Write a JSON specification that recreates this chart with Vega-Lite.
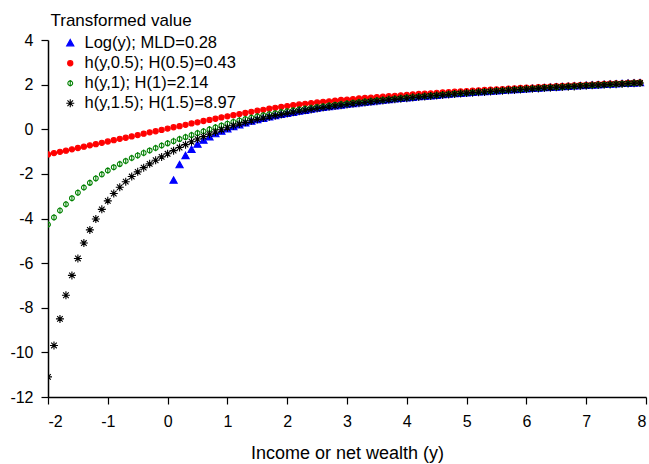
{
  "$schema": "https://vega.github.io/schema/vega-lite/v6.json",
  "width": 598,
  "height": 357,
  "autosize": "none",
  "padding": {"left": 48, "top": 40, "right": 3, "bottom": 67},
  "background": "white",
  "config": {
    "view": {"stroke": null},
    "font": "Liberation Sans",
    "axis": {"labelFont": "Liberation Sans", "titleFont": "Liberation Sans", "labelColor": "#000", "titleColor": "#000"}
  },
  "data": {
    "values": [
      {"s":"l","y":0.1,"v":-2.3},{"s":"l","y":0.2,"v":-1.61},{"s":"l","y":0.3,"v":-1.2},{"s":"l","y":0.4,"v":-0.92},{"s":"l","y":0.5,"v":-0.69},
      {"s":"l","y":0.6,"v":-0.51},{"s":"l","y":0.7,"v":-0.36},{"s":"l","y":0.8,"v":-0.22},{"s":"l","y":0.9,"v":-0.11},{"s":"l","y":1.0,"v":0},
      {"s":"l","y":1.1,"v":0.1},{"s":"l","y":1.2,"v":0.18},{"s":"l","y":1.3,"v":0.26},{"s":"l","y":1.4,"v":0.34},{"s":"l","y":1.5,"v":0.41},
      {"s":"l","y":1.6,"v":0.47},{"s":"l","y":1.7,"v":0.53},{"s":"l","y":1.8,"v":0.59},{"s":"l","y":1.9,"v":0.64},{"s":"l","y":2.0,"v":0.69},
      {"s":"l","y":2.1,"v":0.74},{"s":"l","y":2.2,"v":0.79},{"s":"l","y":2.3,"v":0.83},{"s":"l","y":2.4,"v":0.88},{"s":"l","y":2.5,"v":0.92},
      {"s":"l","y":2.6,"v":0.96},{"s":"l","y":2.7,"v":0.99},{"s":"l","y":2.8,"v":1.03},{"s":"l","y":2.9,"v":1.06},{"s":"l","y":3.0,"v":1.1},
      {"s":"l","y":3.1,"v":1.13},{"s":"l","y":3.2,"v":1.16},{"s":"l","y":3.3,"v":1.19},{"s":"l","y":3.4,"v":1.22},{"s":"l","y":3.5,"v":1.25},
      {"s":"l","y":3.6,"v":1.28},{"s":"l","y":3.7,"v":1.31},{"s":"l","y":3.8,"v":1.34},{"s":"l","y":3.9,"v":1.36},{"s":"l","y":4.0,"v":1.39},
      {"s":"l","y":4.1,"v":1.41},{"s":"l","y":4.2,"v":1.44},{"s":"l","y":4.3,"v":1.46},{"s":"l","y":4.4,"v":1.48},{"s":"l","y":4.5,"v":1.5},
      {"s":"l","y":4.6,"v":1.53},{"s":"l","y":4.7,"v":1.55},{"s":"l","y":4.8,"v":1.57},{"s":"l","y":4.9,"v":1.59},{"s":"l","y":5.0,"v":1.61},
      {"s":"l","y":5.1,"v":1.63},{"s":"l","y":5.2,"v":1.65},{"s":"l","y":5.3,"v":1.67},{"s":"l","y":5.4,"v":1.69},{"s":"l","y":5.5,"v":1.7},
      {"s":"l","y":5.6,"v":1.72},{"s":"l","y":5.7,"v":1.74},{"s":"l","y":5.8,"v":1.76},{"s":"l","y":5.9,"v":1.77},{"s":"l","y":6.0,"v":1.79},
      {"s":"l","y":6.1,"v":1.81},{"s":"l","y":6.2,"v":1.82},{"s":"l","y":6.3,"v":1.84},{"s":"l","y":6.4,"v":1.86},{"s":"l","y":6.5,"v":1.87},
      {"s":"l","y":6.6,"v":1.89},{"s":"l","y":6.7,"v":1.9},{"s":"l","y":6.8,"v":1.92},{"s":"l","y":6.9,"v":1.93},{"s":"l","y":7.0,"v":1.95},
      {"s":"l","y":7.1,"v":1.96},{"s":"l","y":7.2,"v":1.97},{"s":"l","y":7.3,"v":1.99},{"s":"l","y":7.4,"v":2.0},{"s":"l","y":7.5,"v":2.01},
      {"s":"l","y":7.6,"v":2.03},{"s":"l","y":7.7,"v":2.04},{"s":"l","y":7.8,"v":2.05},{"s":"l","y":7.9,"v":2.07},

      {"s":"r","y":-2.0,"v":-1.13},{"s":"r","y":-1.9,"v":-1.07},{"s":"r","y":-1.8,"v":-1.01},{"s":"r","y":-1.7,"v":-0.96},{"s":"r","y":-1.6,"v":-0.9},
      {"s":"r","y":-1.5,"v":-0.84},{"s":"r","y":-1.4,"v":-0.78},{"s":"r","y":-1.3,"v":-0.72},{"s":"r","y":-1.2,"v":-0.67},{"s":"r","y":-1.1,"v":-0.61},
      {"s":"r","y":-1.0,"v":-0.55},{"s":"r","y":-0.9,"v":-0.49},{"s":"r","y":-0.8,"v":-0.43},{"s":"r","y":-0.7,"v":-0.38},{"s":"r","y":-0.6,"v":-0.32},
      {"s":"r","y":-0.5,"v":-0.26},{"s":"r","y":-0.4,"v":-0.2},{"s":"r","y":-0.3,"v":-0.14},{"s":"r","y":-0.2,"v":-0.09},{"s":"r","y":-0.1,"v":-0.03},
      {"s":"r","y":0.0,"v":0.03},{"s":"r","y":0.1,"v":0.09},{"s":"r","y":0.2,"v":0.14},{"s":"r","y":0.3,"v":0.2},{"s":"r","y":0.4,"v":0.26},
      {"s":"r","y":0.5,"v":0.31},{"s":"r","y":0.6,"v":0.37},{"s":"r","y":0.7,"v":0.42},{"s":"r","y":0.8,"v":0.47},{"s":"r","y":0.9,"v":0.53},
      {"s":"r","y":1.0,"v":0.58},{"s":"r","y":1.1,"v":0.63},{"s":"r","y":1.2,"v":0.68},{"s":"r","y":1.3,"v":0.73},{"s":"r","y":1.4,"v":0.78},
      {"s":"r","y":1.5,"v":0.83},{"s":"r","y":1.6,"v":0.87},{"s":"r","y":1.7,"v":0.92},{"s":"r","y":1.8,"v":0.96},{"s":"r","y":1.9,"v":1.0},
      {"s":"r","y":2.0,"v":1.04},{"s":"r","y":2.1,"v":1.08},{"s":"r","y":2.2,"v":1.11},{"s":"r","y":2.3,"v":1.14},{"s":"r","y":2.4,"v":1.17},
      {"s":"r","y":2.5,"v":1.2},{"s":"r","y":2.6,"v":1.23},{"s":"r","y":2.7,"v":1.25},{"s":"r","y":2.8,"v":1.28},{"s":"r","y":2.9,"v":1.31},
      {"s":"r","y":3.0,"v":1.33},{"s":"r","y":3.1,"v":1.35},{"s":"r","y":3.2,"v":1.38},{"s":"r","y":3.3,"v":1.4},{"s":"r","y":3.4,"v":1.42},
      {"s":"r","y":3.5,"v":1.44},{"s":"r","y":3.6,"v":1.46},{"s":"r","y":3.7,"v":1.48},{"s":"r","y":3.8,"v":1.5},{"s":"r","y":3.9,"v":1.52},
      {"s":"r","y":4.0,"v":1.54},{"s":"r","y":4.1,"v":1.56},{"s":"r","y":4.2,"v":1.58},{"s":"r","y":4.3,"v":1.6},{"s":"r","y":4.4,"v":1.61},
      {"s":"r","y":4.5,"v":1.63},{"s":"r","y":4.6,"v":1.65},{"s":"r","y":4.7,"v":1.66},{"s":"r","y":4.8,"v":1.68},{"s":"r","y":4.9,"v":1.7},
      {"s":"r","y":5.0,"v":1.71},{"s":"r","y":5.1,"v":1.73},{"s":"r","y":5.2,"v":1.74},{"s":"r","y":5.3,"v":1.76},{"s":"r","y":5.4,"v":1.77},
      {"s":"r","y":5.5,"v":1.79},{"s":"r","y":5.6,"v":1.8},{"s":"r","y":5.7,"v":1.82},{"s":"r","y":5.8,"v":1.83},{"s":"r","y":5.9,"v":1.85},
      {"s":"r","y":6.0,"v":1.86},{"s":"r","y":6.1,"v":1.87},{"s":"r","y":6.2,"v":1.89},{"s":"r","y":6.3,"v":1.9},{"s":"r","y":6.4,"v":1.91},
      {"s":"r","y":6.5,"v":1.93},{"s":"r","y":6.6,"v":1.94},{"s":"r","y":6.7,"v":1.95},{"s":"r","y":6.8,"v":1.97},{"s":"r","y":6.9,"v":1.98},
      {"s":"r","y":7.0,"v":1.99},{"s":"r","y":7.1,"v":2.0},{"s":"r","y":7.2,"v":2.02},{"s":"r","y":7.3,"v":2.03},{"s":"r","y":7.4,"v":2.04},
      {"s":"r","y":7.5,"v":2.05},{"s":"r","y":7.6,"v":2.06},{"s":"r","y":7.7,"v":2.08},{"s":"r","y":7.8,"v":2.09},{"s":"r","y":7.9,"v":2.1},

      {"s":"g","y":-2.0,"v":-4.27},{"s":"g","y":-1.9,"v":-3.95},{"s":"g","y":-1.8,"v":-3.64},{"s":"g","y":-1.7,"v":-3.36},{"s":"g","y":-1.6,"v":-3.09},
      {"s":"g","y":-1.5,"v":-2.84},{"s":"g","y":-1.4,"v":-2.61},{"s":"g","y":-1.3,"v":-2.4},{"s":"g","y":-1.2,"v":-2.2},{"s":"g","y":-1.1,"v":-2.02},
      {"s":"g","y":-1.0,"v":-1.85},{"s":"g","y":-0.9,"v":-1.7},{"s":"g","y":-0.8,"v":-1.56},{"s":"g","y":-0.7,"v":-1.42},{"s":"g","y":-0.6,"v":-1.29},
      {"s":"g","y":-0.5,"v":-1.17},{"s":"g","y":-0.4,"v":-1.06},{"s":"g","y":-0.3,"v":-0.95},{"s":"g","y":-0.2,"v":-0.84},{"s":"g","y":-0.1,"v":-0.73},
      {"s":"g","y":0.0,"v":-0.63},{"s":"g","y":0.1,"v":-0.53},{"s":"g","y":0.2,"v":-0.44},{"s":"g","y":0.3,"v":-0.35},{"s":"g","y":0.4,"v":-0.26},
      {"s":"g","y":0.5,"v":-0.17},{"s":"g","y":0.6,"v":-0.09},{"s":"g","y":0.7,"v":0.0},{"s":"g","y":0.8,"v":0.09},{"s":"g","y":0.9,"v":0.17},
      {"s":"g","y":1.0,"v":0.25},{"s":"g","y":1.1,"v":0.33},{"s":"g","y":1.2,"v":0.4},{"s":"g","y":1.3,"v":0.46},{"s":"g","y":1.4,"v":0.52},
      {"s":"g","y":1.5,"v":0.58},{"s":"g","y":1.6,"v":0.63},{"s":"g","y":1.7,"v":0.68},{"s":"g","y":1.8,"v":0.72},{"s":"g","y":1.9,"v":0.77},
      {"s":"g","y":2.0,"v":0.81},{"s":"g","y":2.1,"v":0.85},{"s":"g","y":2.2,"v":0.89},{"s":"g","y":2.3,"v":0.93},{"s":"g","y":2.4,"v":0.96},
      {"s":"g","y":2.5,"v":1.0},{"s":"g","y":2.6,"v":1.03},{"s":"g","y":2.7,"v":1.07},{"s":"g","y":2.8,"v":1.1},{"s":"g","y":2.9,"v":1.13},
      {"s":"g","y":3.0,"v":1.16},{"s":"g","y":3.1,"v":1.19},{"s":"g","y":3.2,"v":1.22},{"s":"g","y":3.3,"v":1.25},{"s":"g","y":3.4,"v":1.27},
      {"s":"g","y":3.5,"v":1.3},{"s":"g","y":3.6,"v":1.32},{"s":"g","y":3.7,"v":1.35},{"s":"g","y":3.8,"v":1.37},{"s":"g","y":3.9,"v":1.4},
      {"s":"g","y":4.0,"v":1.42},{"s":"g","y":4.1,"v":1.45},{"s":"g","y":4.2,"v":1.47},{"s":"g","y":4.3,"v":1.49},{"s":"g","y":4.4,"v":1.51},
      {"s":"g","y":4.5,"v":1.53},{"s":"g","y":4.6,"v":1.56},{"s":"g","y":4.7,"v":1.58},{"s":"g","y":4.8,"v":1.6},{"s":"g","y":4.9,"v":1.62},
      {"s":"g","y":5.0,"v":1.63},{"s":"g","y":5.1,"v":1.65},{"s":"g","y":5.2,"v":1.67},{"s":"g","y":5.3,"v":1.69},{"s":"g","y":5.4,"v":1.71},
      {"s":"g","y":5.5,"v":1.73},{"s":"g","y":5.6,"v":1.74},{"s":"g","y":5.7,"v":1.76},{"s":"g","y":5.8,"v":1.78},{"s":"g","y":5.9,"v":1.79},
      {"s":"g","y":6.0,"v":1.81},{"s":"g","y":6.1,"v":1.83},{"s":"g","y":6.2,"v":1.84},{"s":"g","y":6.3,"v":1.86},{"s":"g","y":6.4,"v":1.87},
      {"s":"g","y":6.5,"v":1.89},{"s":"g","y":6.6,"v":1.9},{"s":"g","y":6.7,"v":1.92},{"s":"g","y":6.8,"v":1.93},{"s":"g","y":6.9,"v":1.95},
      {"s":"g","y":7.0,"v":1.96},{"s":"g","y":7.1,"v":1.97},{"s":"g","y":7.2,"v":1.99},{"s":"g","y":7.3,"v":2.0},{"s":"g","y":7.4,"v":2.01},
      {"s":"g","y":7.5,"v":2.03},{"s":"g","y":7.6,"v":2.04},{"s":"g","y":7.7,"v":2.05},{"s":"g","y":7.8,"v":2.07},{"s":"g","y":7.9,"v":2.08},

      {"s":"b","y":-2.0,"v":-11.1},{"s":"b","y":-1.9,"v":-9.69},{"s":"b","y":-1.8,"v":-8.5},{"s":"b","y":-1.7,"v":-7.44},{"s":"b","y":-1.6,"v":-6.55},
      {"s":"b","y":-1.5,"v":-5.79},{"s":"b","y":-1.4,"v":-5.1},{"s":"b","y":-1.3,"v":-4.51},{"s":"b","y":-1.2,"v":-4.02},{"s":"b","y":-1.1,"v":-3.59},
      {"s":"b","y":-1.0,"v":-3.21},{"s":"b","y":-0.9,"v":-2.88},{"s":"b","y":-0.8,"v":-2.6},{"s":"b","y":-0.7,"v":-2.35},{"s":"b","y":-0.6,"v":-2.12},
      {"s":"b","y":-0.5,"v":-1.91},{"s":"b","y":-0.4,"v":-1.72},{"s":"b","y":-0.3,"v":-1.55},{"s":"b","y":-0.2,"v":-1.39},{"s":"b","y":-0.1,"v":-1.24},
      {"s":"b","y":0.0,"v":-1.1},{"s":"b","y":0.1,"v":-0.96},{"s":"b","y":0.2,"v":-0.82},{"s":"b","y":0.3,"v":-0.69},{"s":"b","y":0.4,"v":-0.56},
      {"s":"b","y":0.5,"v":-0.44},{"s":"b","y":0.6,"v":-0.33},{"s":"b","y":0.7,"v":-0.22},{"s":"b","y":0.8,"v":-0.12},{"s":"b","y":0.9,"v":-0.02},
      {"s":"b","y":1.0,"v":0.07},{"s":"b","y":1.1,"v":0.16},{"s":"b","y":1.2,"v":0.23},{"s":"b","y":1.3,"v":0.31},{"s":"b","y":1.4,"v":0.38},
      {"s":"b","y":1.5,"v":0.44},{"s":"b","y":1.6,"v":0.5},{"s":"b","y":1.7,"v":0.56},{"s":"b","y":1.8,"v":0.61},{"s":"b","y":1.9,"v":0.66},
      {"s":"b","y":2.0,"v":0.71},{"s":"b","y":2.1,"v":0.76},{"s":"b","y":2.2,"v":0.81},{"s":"b","y":2.3,"v":0.85},{"s":"b","y":2.4,"v":0.89},
      {"s":"b","y":2.5,"v":0.93},{"s":"b","y":2.6,"v":0.97},{"s":"b","y":2.7,"v":1.01},{"s":"b","y":2.8,"v":1.04},{"s":"b","y":2.9,"v":1.08},
      {"s":"b","y":3.0,"v":1.11},{"s":"b","y":3.1,"v":1.14},{"s":"b","y":3.2,"v":1.17},{"s":"b","y":3.3,"v":1.2},{"s":"b","y":3.4,"v":1.23},
      {"s":"b","y":3.5,"v":1.26},{"s":"b","y":3.6,"v":1.29},{"s":"b","y":3.7,"v":1.32},{"s":"b","y":3.8,"v":1.34},{"s":"b","y":3.9,"v":1.37},
      {"s":"b","y":4.0,"v":1.39},{"s":"b","y":4.1,"v":1.42},{"s":"b","y":4.2,"v":1.44},{"s":"b","y":4.3,"v":1.47},{"s":"b","y":4.4,"v":1.49},
      {"s":"b","y":4.5,"v":1.51},{"s":"b","y":4.6,"v":1.53},{"s":"b","y":4.7,"v":1.56},{"s":"b","y":4.8,"v":1.58},{"s":"b","y":4.9,"v":1.6},
      {"s":"b","y":5.0,"v":1.62},{"s":"b","y":5.1,"v":1.64},{"s":"b","y":5.2,"v":1.66},{"s":"b","y":5.3,"v":1.67},{"s":"b","y":5.4,"v":1.69},
      {"s":"b","y":5.5,"v":1.71},{"s":"b","y":5.6,"v":1.73},{"s":"b","y":5.7,"v":1.75},{"s":"b","y":5.8,"v":1.76},{"s":"b","y":5.9,"v":1.78},
      {"s":"b","y":6.0,"v":1.8},{"s":"b","y":6.1,"v":1.81},{"s":"b","y":6.2,"v":1.83},{"s":"b","y":6.3,"v":1.85},{"s":"b","y":6.4,"v":1.86},
      {"s":"b","y":6.5,"v":1.88},{"s":"b","y":6.6,"v":1.89},{"s":"b","y":6.7,"v":1.91},{"s":"b","y":6.8,"v":1.92},{"s":"b","y":6.9,"v":1.94},
      {"s":"b","y":7.0,"v":1.95},{"s":"b","y":7.1,"v":1.97},{"s":"b","y":7.2,"v":1.98},{"s":"b","y":7.3,"v":1.99},{"s":"b","y":7.4,"v":2.01},
      {"s":"b","y":7.5,"v":2.02},{"s":"b","y":7.6,"v":2.03},{"s":"b","y":7.7,"v":2.05},{"s":"b","y":7.8,"v":2.06},{"s":"b","y":7.9,"v":2.07}
    ]
  },
  "mark": {"type": "point", "clip": true, "opacity": 1, "size": 4, "strokeWidth": 1.1},
  "encoding": {
    "x": {
      "field": "y",
      "type": "quantitative",
      "scale": {"domain": [-2, 8], "nice": false, "zero": false},
      "axis": {
        "values": [-2, -1, 0, 1, 2, 3, 4, 5, 6, 7, 8],
        "labelExpr": "'' + datum.value",
        "grid": false,
        "domainColor": "#000",
        "domainWidth": 1.5,
        "tickColor": "#000",
        "tickWidth": 1.2,
        "tickSize": 7,
        "labelFontSize": 16,
        "labelPadding": 9,
        "title": "Income or net wealth (y)",
        "titleFontSize": 18,
        "titleFontWeight": "normal",
        "titleBaseline": "alphabetic",
        "titleY": 61
      }
    },
    "y": {
      "field": "v",
      "type": "quantitative",
      "scale": {"domain": [-12, 4], "nice": false, "zero": false},
      "axis": {
        "values": [-12, -10, -8, -6, -4, -2, 0, 2, 4],
        "labelExpr": "'' + datum.value",
        "grid": false,
        "domainColor": "#000",
        "domainWidth": 1.5,
        "tickColor": "#000",
        "tickWidth": 1.2,
        "tickSize": 7,
        "labelFontSize": 16,
        "labelPadding": 8,
        "title": "Transformed value",
        "titleAngle": 0,
        "titleAlign": "left",
        "titleBaseline": "alphabetic",
        "titleFontSize": 17,
        "titleFontWeight": "normal",
        "titleX": 2,
        "titleY": -15
      }
    },
    "shape": {
      "field": "s",
      "type": "nominal",
      "scale": {
        "domain": ["l", "r", "g", "b"],
        "range": [
          "M0,-3.8L3.6,2.6L-3.6,2.6Z",
          "M-2.6,0C-2.6,-1.44,-1.44,-2.6,0,-2.6C1.44,-2.6,2.6,-1.44,2.6,0C2.6,1.44,1.44,2.6,0,2.6C-1.44,2.6,-2.6,1.44,-2.6,0Z",
          "M-2.4,0C-2.4,-1.32,-1.32,-2.4,0,-2.4C1.32,-2.4,2.4,-1.32,2.4,0C2.4,1.32,1.32,2.4,0,2.4C-1.32,2.4,-2.4,1.32,-2.4,0ZM0,-3.3L0,3.3",
          "M0,-4L0,4M-4,0L4,0M-2.8,-2.8L2.8,2.8M-2.8,2.8L2.8,-2.8"
        ]
      },
      "legend": {
        "title": null,
        "orient": "none",
        "legendX": 14,
        "legendY": -5,
        "labelFont": "Liberation Sans",
        "labelFontSize": 16.5,
        "labelColor": "#000",
        "labelOffset": 6,
        "rowPadding": 3,
        "symbolSize": 4,
        "symbolStrokeWidth": 1.1,
        "labelExpr": "datum.label == 'l' ? 'Log(y); MLD=0.28' : datum.label == 'r' ? 'h(y,0.5); H(0.5)=0.43' : datum.label == 'g' ? 'h(y,1); H(1)=2.14' : 'h(y,1.5); H(1.5)=8.97'"
      }
    },
    "fill": {
      "field": "s",
      "type": "nominal",
      "scale": {"domain": ["l", "r", "g", "b"], "range": ["#0000ff", "#ff0000", "transparent", "transparent"]}
    },
    "stroke": {
      "field": "s",
      "type": "nominal",
      "scale": {"domain": ["l", "r", "g", "b"], "range": ["#0000ff", "#ff0000", "#008000", "#000000"]}
    }
  }
}
